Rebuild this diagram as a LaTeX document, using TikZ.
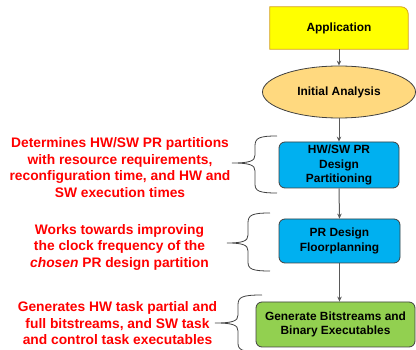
\documentclass[tikz,border=0pt]{standalone}
\usepackage{fontspec}
\setmainfont{Liberation Sans}
\usetikzlibrary{shapes.geometric,arrows.meta,backgrounds}
\definecolor{appfill}{HTML}{FFFF00}
\definecolor{appdraw}{HTML}{D4A017}
\definecolor{ellfill}{HTML}{FFD97F}
\definecolor{bluefill}{HTML}{00B0F0}
\definecolor{greenfill}{HTML}{92D050}
\definecolor{edge}{HTML}{404040}
\definecolor{arrowc}{HTML}{595959}
\definecolor{redtext}{HTML}{FF0000}
\tikzset{
  boxtext/.style={font=\fontsize{11.9}{14.3}\selectfont\bfseries, align=center, text=black},
  stepbox/.style={boxtext, rectangle, rounded corners=6pt, draw=edge, line width=0.8pt, inner sep=0pt},
  note/.style={font=\fontsize{13.8}{16.5}\selectfont\bfseries, align=center, text=redtext},
  flow/.style={draw=arrowc, line width=1pt, -{Stealth[length=5pt,width=4.5pt]}},
  bracec/.style={draw=edge, line width=0.8pt}
}
\begin{document}
\begin{tikzpicture}[x=1pt,y=-1pt]
\useasboundingbox (0,0) rectangle (416,350);
% Application box (only top-right corner rounded)
\node[boxtext, minimum width=138pt, minimum height=42pt, inner sep=0pt] (app) at (339,28) {Application};
\begin{scope}[on background layer]
\path[fill=appfill, draw=appdraw, line width=0.8pt]
  (app.south west) -- (app.north west) -- ([xshift=-7pt]app.north east)
  arc[start angle=90, end angle=0, radius=7pt] -- (app.south east) -- cycle;
\end{scope}
\node[boxtext, ellipse, fill=ellfill, draw=edge, line width=0.8pt, minimum width=153pt, minimum height=52pt, inner sep=0pt] (ia) at (339,92) {Initial Analysis};
\node[stepbox, fill=bluefill, minimum width=120pt, minimum height=46pt] (part) at (339,165) {HW/SW PR\\Design\\Partitioning};
\node[stepbox, fill=bluefill, minimum width=121pt, minimum height=44pt] (floor) at (339.5,241) {PR Design\\Floorplanning};
\node[stepbox, fill=greenfill, minimum width=159pt, minimum height=45pt] (gen) at (335.5,324.5) {Generate Bitstreams and\\Binary Executables};
\draw[flow] (app.south) -- (ia.north);
\draw[flow] (ia.south) -- (part.north);
\draw[flow] (part.south) -- (floor.north);
\draw[flow] (floor.south) -- (floor.south |- gen.north);
% notes
\node[note] (n1) at (120,167.5) {Determines HW/SW PR partitions\\with resource requirements,\\reconfiguration time, and HW and\\SW execution times};
\node[note] (n2) at (119.5,247) {Works towards improving\\the clock frequency of the\\\textit{chosen} PR design partition};
\node[note] (n3) at (117.5,323.5) {Generates HW task partial and\\full bitstreams, and SW task\\and control task executables};
% braces
\draw[bracec] (277,136) .. controls (259,136) and (255,138) .. (255,146) -- (255,155)
  .. controls (255,161) and (250,163) .. (232,163)
  .. controls (250,163) and (255,165) .. (255,171) -- (255,184)
  .. controls (255,191) and (259,193) .. (277,193);
\draw[bracec] (270,213) .. controls (252,213) and (248,215) .. (248,223) -- (248,235)
  .. controls (248,241) and (243,243) .. (227,243)
  .. controls (243,243) and (248,245) .. (248,251) -- (248,262)
  .. controls (248,269) and (252,271) .. (270,271);
\draw[bracec] (262,295) .. controls (242,295) and (238,297) .. (238,305) -- (238,315)
  .. controls (238,321) and (233,323) .. (215,323)
  .. controls (233,323) and (238,325) .. (238,331) -- (238,343)
  .. controls (238,350) and (242,352) .. (262,352);
\end{tikzpicture}
\end{document}
